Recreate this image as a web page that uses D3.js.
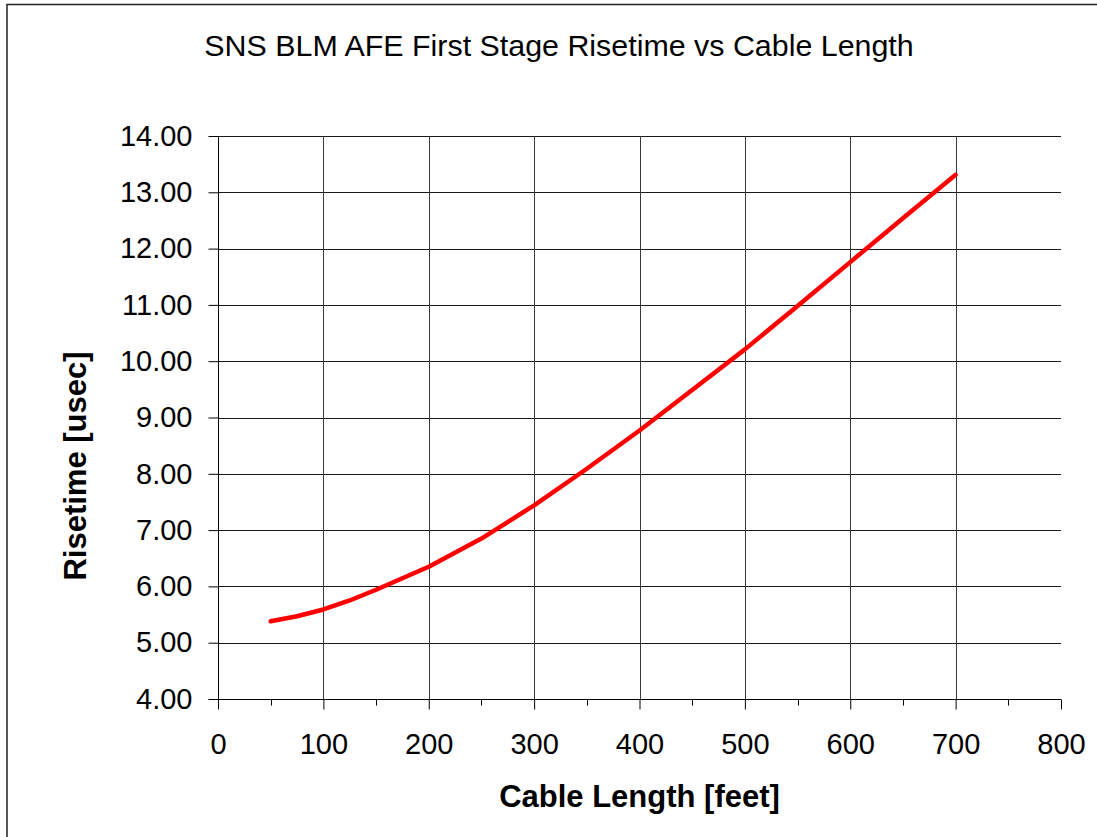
<!DOCTYPE html>
<html>
<head>
<meta charset="utf-8">
<script src="https://cdn.jsdelivr.net/npm/d3@7"></script>
<style>
  body { margin: 0; background: #fff; }
  text { font-family: Arial, "Liberation Sans", sans-serif; fill: #000; }
</style>
</head>
<body>
<svg id="risetime-chart"></svg>
<script>
////////////////////////////////////////////////////////////////////////////////
///////////////////////////////////////////////////////////////////// Chart data
////////////////////////////////////////////////////////////////////////////////

// Cable length [feet]
const cableLength = [50, 75, 100, 125, 150, 200, 250, 300, 350, 400, 450, 500, 550, 600, 650, 700];
// Risetime [usec]
const risetime = [5.38, 5.47, 5.59, 5.75, 5.94, 6.35, 6.85, 7.44, 8.09, 8.77, 9.49, 10.21, 10.98, 11.76, 12.54, 13.31];

const xTicks = [0, 100, 200, 300, 400, 500, 600, 700, 800];
const xMinorTicks = [50, 150, 250, 350, 450, 550, 650, 750];
const yTicks = [4, 5, 6, 7, 8, 9, 10, 11, 12, 13, 14];
const xGridTicks = [100, 200, 300, 400, 500, 600, 700];

const chartTitle = "SNS BLM AFE First Stage Risetime vs Cable Length";
const xLabel = "Cable Length [feet]";
const yLabel = "Risetime [usec]";

////////////////////////////////////////////////////////////////////////////////
////////////////////////////////////////////////////////////////////////////////

// SVG configurations
const svgWidth = 1097;
const svgHeight = 837;
const plot = { left: 218, right: 1061, top: 136, bottom: 699 };

const svg = d3.select("#risetime-chart")
              .attr("width", svgWidth)
              .attr("height", svgHeight);

// Outer frame (runs off the right and bottom edge)
svg.append("rect")
     .attr("x", 7)
     .attr("y", 4.5)
     .attr("width", svgWidth + 20)
     .attr("height", svgHeight + 20)
     .attr("fill", "#fff")
     .attr("stroke", "#222")
     .attr("stroke-width", 1.5);

// Scales
const xScale = d3.scaleLinear()
                 .domain([0, 800])
                 .range([plot.left, plot.right]);
const yScale = d3.scaleLinear()
                 .domain([4, 14])
                 .range([plot.bottom, plot.top]);

// Gridlines
svg.append("g")
     .attr("class", "yGrid")
   .selectAll("line")
   .data(yTicks.slice(1))
   .join("line")
     .attr("x1", plot.left)
     .attr("x2", plot.right)
     .attr("y1", d => Math.round(yScale(d)) + 0.5)
     .attr("y2", d => Math.round(yScale(d)) + 0.5)
     .attr("stroke", "#1a1a1a")
     .attr("stroke-width", 1);

svg.append("g")
     .attr("class", "xGrid")
   .selectAll("line")
   .data(xGridTicks)
   .join("line")
     .attr("x1", d => Math.round(xScale(d)) + 0.5)
     .attr("x2", d => Math.round(xScale(d)) + 0.5)
     .attr("y1", plot.top)
     .attr("y2", plot.bottom)
     .attr("stroke", "#3a3a3a")
     .attr("stroke-width", 1);

// X-axis
const xAxis = d3.axisBottom(xScale)
                .tickValues(xTicks)
                .tickSize(10)
                .tickPadding(24)
                .tickFormat(d3.format("d"));
const xAxisG = svg.append("g")
                    .attr("class", "xAxis")
                    .attr("transform", `translate(0, ${Math.round(plot.bottom) + 0.5})`)
                    .call(xAxis);

// Minor ticks on the X-axis
xAxisG.selectAll(".minor")
      .data(xMinorTicks)
      .join("line")
        .attr("class", "minor")
        .attr("x1", d => Math.round(xScale(d)) + 0.5)
        .attr("x2", d => Math.round(xScale(d)) + 0.5)
        .attr("y1", 0)
        .attr("y2", 6)
        .attr("stroke", "#000");

// Y-axis
const yAxis = d3.axisLeft(yScale)
                .tickValues(yTicks)
                .tickSize(10)
                .tickPadding(16)
                .tickFormat(d3.format(".2f"));
svg.append("g")
     .attr("class", "yAxis")
     .attr("transform", `translate(${Math.round(plot.left) + 0.5}, 0)`)
     .call(yAxis);

svg.selectAll(".xAxis path, .yAxis path")
   .attr("stroke", "#000")
   .attr("d", function() {
     return d3.select(this.parentNode).classed("xAxis")
       ? `M${plot.left},0H${plot.right}`
       : `M0,${plot.top}V${plot.bottom}`;
   });
svg.selectAll(".xAxis .tick line, .yAxis .tick line")
   .attr("stroke", "#000");
svg.selectAll(".xAxis .tick text, .yAxis .tick text")
   .attr("font-family", "Arial, 'Liberation Sans', sans-serif")
   .style("font-size", "29px")
   .attr("fill", "#000");

// Risetime line
const lineData = cableLength.map((d, i) => ({ x: d, y: risetime[i] }));
svg.append("path")
     .datum(lineData)
     .attr("fill", "none")
     .attr("stroke", "#ff0000")
     .attr("stroke-width", 4.5)
     .attr("stroke-linecap", "round")
     .attr("stroke-linejoin", "round")
     .attr("d", d3.line()
                  .x(d => xScale(d.x))
                  .y(d => yScale(d.y)));

// Chart title
svg.append("text")
     .attr("x", 559)
     .attr("y", 56)
     .style("text-anchor", "middle")
     .style("font-size", "30.4px")
     .text(chartTitle);

// X-axis label
svg.append("text")
     .attr("x", (plot.left + plot.right) / 2)
     .attr("y", 807)
     .style("text-anchor", "middle")
     .style("font-size", "31px")
     .style("font-weight", "bold")
     .text(xLabel);

// Y-axis label
svg.append("text")
     .attr("transform", "translate(86, 466) rotate(-90)")
     .style("text-anchor", "middle")
     .style("font-size", "31px")
     .style("font-weight", "bold")
     .text(yLabel);
</script>
</body>
</html>
